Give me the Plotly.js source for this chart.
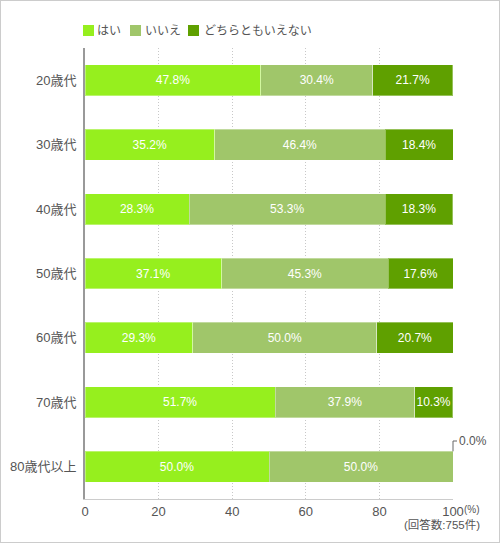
<!DOCTYPE html>
<html>
<head>
<meta charset="utf-8">
<script src="https://cdn.plot.ly/plotly-3.0.1.min.js"></script>
<style>
html,body{margin:0;padding:0;background:#fff;}
#chart{width:498px;height:541px;border:1px solid #ccc;}
</style>
</head>
<body>
<div id="chart"></div>
<script>
var categories = ["20歳代", "30歳代", "40歳代", "50歳代", "60歳代", "70歳代", "80歳代以上"];
var seriesNames = ["はい", "いいえ", "どちらともいえない"];
var yesValues = [47.8, 35.2, 28.3, 37.1, 29.3, 51.7, 50.0];
var noValues = [30.4, 46.4, 53.3, 45.3, 50.0, 37.9, 50.0];
var neitherValues = [21.7, 18.4, 18.3, 17.6, 20.7, 10.3, 0.0];
var xTicks = [0, 20, 40, 60, 80, 100];
var colors = ["#96ef1e", "#a0c66a", "#5fa000"];

var FONT = "Liberation Sans, Arial, Noto Sans CJK JP, sans-serif";
var allSeries = [yesValues, noValues, neitherValues];
var X_RANGE = [0, 100];

function fmt(v){ return v.toFixed(1) + "%"; }

var traces = allSeries.map(function(vals, i){
  return {
    type: "bar",
    orientation: "h",
    name: seriesNames[i],
    y: categories,
    x: vals,
    text: vals.map(function(v){ return v > 0 ? fmt(v) : ""; }),
    textposition: "inside",
    insidetextanchor: "middle",
    textangle: 0,
    constraintext: "none",
    textfont: {family: FONT, size: 12, color: "#ffffff"},
    marker: {color: colors[i], line: {color: "rgba(255,255,255,0.35)", width: 1}},
    hoverinfo: "skip",
    showlegend: false
  };
});

var shapes = [];
var annotations = [];

// custom compact legend (layout offsets in px relative to plot's top-left)
var legendSquareX = [-2, 45, 103];
var legendTextX = [11, 59, 118];
seriesNames.forEach(function(name, i){
  shapes.push({type: "rect", xref: "paper", yref: "paper", xsizemode: "pixel", ysizemode: "pixel",
               xanchor: 0, yanchor: 1, x0: legendSquareX[i], x1: legendSquareX[i] + 11, y0: 12, y1: 23,
               fillcolor: colors[i], line: {width: 0}});
  annotations.push({xref: "paper", yref: "paper", x: 0, y: 1, xanchor: "left", yanchor: "middle",
                    xshift: legendTextX[i] - 1, yshift: 17.5, showarrow: false, text: name,
                    font: {family: FONT, size: 12, color: "#555"}});
});

// bracket label for zero-width segments
var n = categories.length;
var half = 0.24, lift = 0.40;
function yPaper(v){ return 1 - (v + 0.5) / n; }
categories.forEach(function(c, k){
  allSeries.forEach(function(vals, i){
    if (vals[k] === 0) {
      var xEnd = 0;
      for (var j = 0; j <= i; j++) xEnd += allSeries[j][k];
      var xp = (xEnd - X_RANGE[0]) / (X_RANGE[1] - X_RANGE[0]);
      shapes.push({type: "path", xref: "paper", yref: "paper",
                   path: "M" + xp + "," + yPaper(k - half) + " L" + xp + "," + yPaper(k - lift),
                   line: {color: "#666", width: 1}});
      shapes.push({type: "line", xref: "paper", yref: "paper", xsizemode: "pixel", xanchor: xp, x0: 0, x1: 4,
                   y0: yPaper(k - lift), y1: yPaper(k - lift), line: {color: "#666", width: 1}});
      annotations.push({xref: "paper", yref: "paper", x: xp, y: yPaper(k - lift), xanchor: "left", yanchor: "middle",
                        xshift: 4, showarrow: false, text: fmt(vals[k]),
                        font: {family: FONT, size: 12, color: "#555"}});
    }
  });
});

annotations.push({xref: "paper", yref: "paper", x: 1, y: 0, xanchor: "left", yanchor: "middle",
                  xshift: 9, yshift: -10, showarrow: false, text: "(%)",
                  font: {family: FONT, size: 10, color: "#555"}});
annotations.push({xref: "paper", yref: "paper", x: 1, y: 0, xanchor: "right", yanchor: "middle",
                  xshift: 29, yshift: -25, showarrow: false, text: "(回答数:755件)",
                  font: {family: FONT, size: 11.5, color: "#555"}});

var layout = {
  width: 498,
  height: 541,
  margin: {l: 84, r: 46, t: 47, b: 43},
  paper_bgcolor: "#ffffff",
  plot_bgcolor: "#ffffff",
  barmode: "stack",
  bargap: 0.52,
  font: {family: FONT, size: 13, color: "#555"},
  showlegend: false,
  xaxis: {range: X_RANGE, tickvals: xTicks, ticktext: xTicks.map(String), showgrid: true,
          gridcolor: "#c8c8c8", griddash: "1px,2px", gridwidth: 1, zeroline: false,
          showline: true, linecolor: "#cccccc", linewidth: 1, ticks: "", fixedrange: true,
          tickfont: {family: FONT, size: 13, color: "#555"}},
  yaxis: {type: "category", autorange: "reversed", showgrid: false, zeroline: false,
          showline: true, linecolor: "#999999", linewidth: 2, ticks: "", ticklabelstandoff: 4,
          fixedrange: true, tickfont: {family: FONT, size: 13, color: "#555"}},
  shapes: shapes,
  annotations: annotations
};

Plotly.newPlot("chart", traces, layout, {displayModeBar: false, staticPlot: true});
</script>
</body>
</html>
